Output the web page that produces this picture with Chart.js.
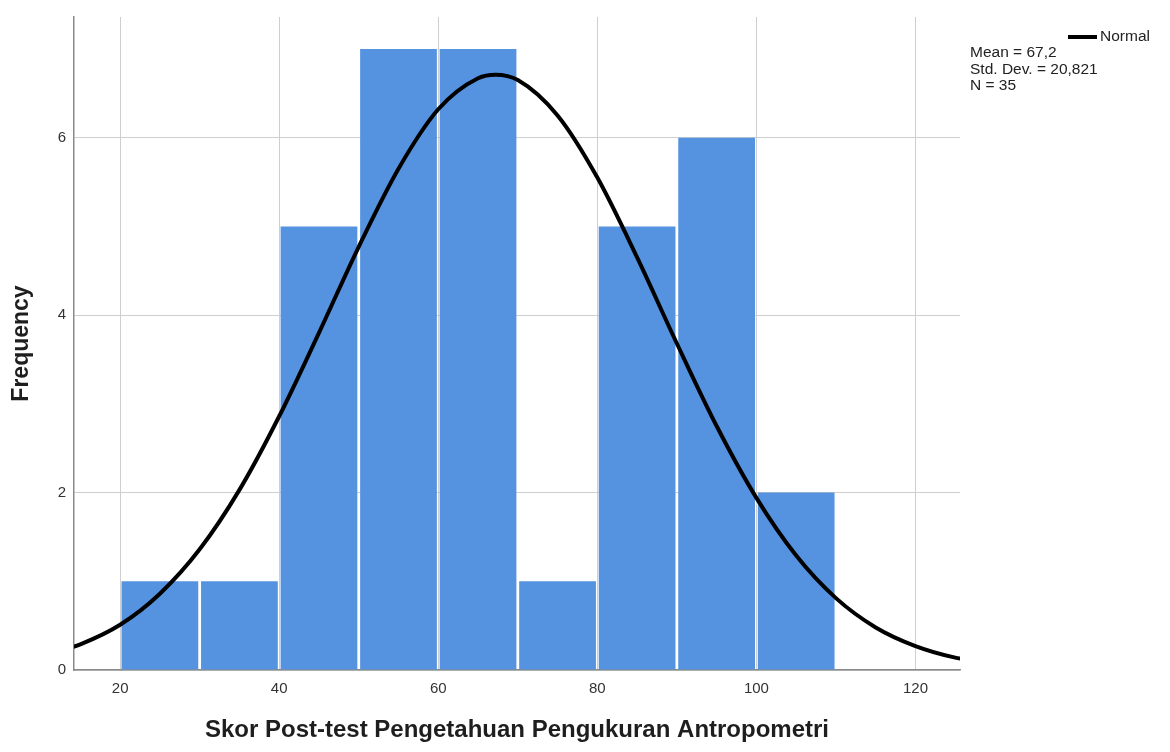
<!DOCTYPE html>
<html>
<head>
<meta charset="utf-8">
<script src="https://cdn.jsdelivr.net/npm/chart.js@4"></script>
<style>
    body { margin: 0; background: #fff; }
    #wrap { position: relative; width: 1170px; height: 752px; }
    .leyenda { position: absolute; font-family: "Liberation Sans", Arial, sans-serif; font-size: 15.5px; color: #222; line-height: 16.5px; white-space: nowrap; }
    #linea { position: absolute; left: 1068px; top: 35px; width: 29px; height: 4px; background: #000; }
</style>
</head>
<body>
<div id="wrap">
    <canvas id="grafico" width="1170" height="752"></canvas>
    <div id="linea"></div>
    <div class="leyenda" style="left:1100px; top:28px;">Normal</div>
    <div class="leyenda" style="left:970px; top:44px;">Mean = 67,2<br>Std. Dev. = 20,821<br>N = 35</div>
</div>
<script>
// histograma: centro de cada intervalo y frecuencia
const centros = [25, 35, 45, 55, 65, 75, 85, 95, 105];
const frecuencias = [1, 1, 5, 7, 7, 1, 5, 6, 2];

// curva normal
const curvaX = [10, 15, 20, 25, 30, 35, 40, 45, 50, 55, 60, 65, 67.2, 70, 75, 80, 85, 90, 95, 100, 105, 110, 115, 120, 125, 130];
const curvaY = [0.15, 0.29, 0.51, 0.86, 1.36, 2.03, 2.86, 3.80, 4.77, 5.65, 6.32, 6.67, 6.71, 6.65, 6.25, 5.55, 4.65, 3.68, 2.75, 1.94, 1.29, 0.81, 0.48, 0.27, 0.14, 0.07];

const ticksX = [20, 40, 60, 80, 100, 120];
const ticksY = [0, 2, 4, 6];

const fuente = "'Liberation Sans', Arial, sans-serif";

new Chart(document.getElementById('grafico'), {
    type: 'bar',
    data: {
        datasets: [
            {
                type: 'line',
                label: 'Normal',
                data: curvaX.map((x, i) => ({ x: x, y: curvaY[i] })),
                borderColor: '#000',
                borderWidth: 4,
                pointRadius: 0,
                cubicInterpolationMode: 'monotone',
                order: 0
            },
            {
                type: 'bar',
                label: 'Frequency',
                data: centros.map((c, i) => ({ x: c, y: frecuencias[i] })),
                backgroundColor: '#5593e0',
                borderWidth: 0,
                barPercentage: 0.965,
                categoryPercentage: 1,
                order: 1
            }
        ]
    },
    options: {
        responsive: false,
        animation: false,
        devicePixelRatio: 1,
        layout: { padding: { left: 0, right: 210, top: 15, bottom: 0 } },
        plugins: { legend: { display: false }, tooltip: { enabled: false } },
        scales: {
            x: {
                type: 'linear',
                min: 14.2,
                max: 125.6,
                offset: false,
                afterFit: s => { s.height = 82; },
                afterBuildTicks: s => { s.ticks = ticksX.map(v => ({ value: v })); },
                ticks: { color: '#333', font: { family: fuente, size: 15 }, padding: 10, maxRotation: 0 },
                grid: { color: '#cfcfcf', lineWidth: 1, drawTicks: false, offset: false },
                border: { color: '#8a8a8a', width: 1.5 },
                title: {
                    display: true,
                    text: 'Skor Post-test Pengetahuan Pengukuran Antropometri',
                    color: '#1e1e1e',
                    font: { family: fuente, size: 24, weight: 'bold' },
                    padding: { top: 0, bottom: 7 }
                }
            },
            y: {
                min: 0,
                max: 7.36,
                afterFit: s => { s.width = 74; },
                afterBuildTicks: s => { s.ticks = ticksY.map(v => ({ value: v })); },
                ticks: { color: '#333', font: { family: fuente, size: 15 }, padding: 8 },
                grid: { color: '#cfcfcf', lineWidth: 1, drawTicks: false },
                border: { color: '#8a8a8a', width: 1.5 },
                title: {
                    display: true,
                    text: 'Frequency',
                    color: '#1e1e1e',
                    font: { family: fuente, size: 23, weight: 'bold' },
                    padding: { top: 8, bottom: 0 }
                }
            }
        }
    }
});
</script>
</body>
</html>
